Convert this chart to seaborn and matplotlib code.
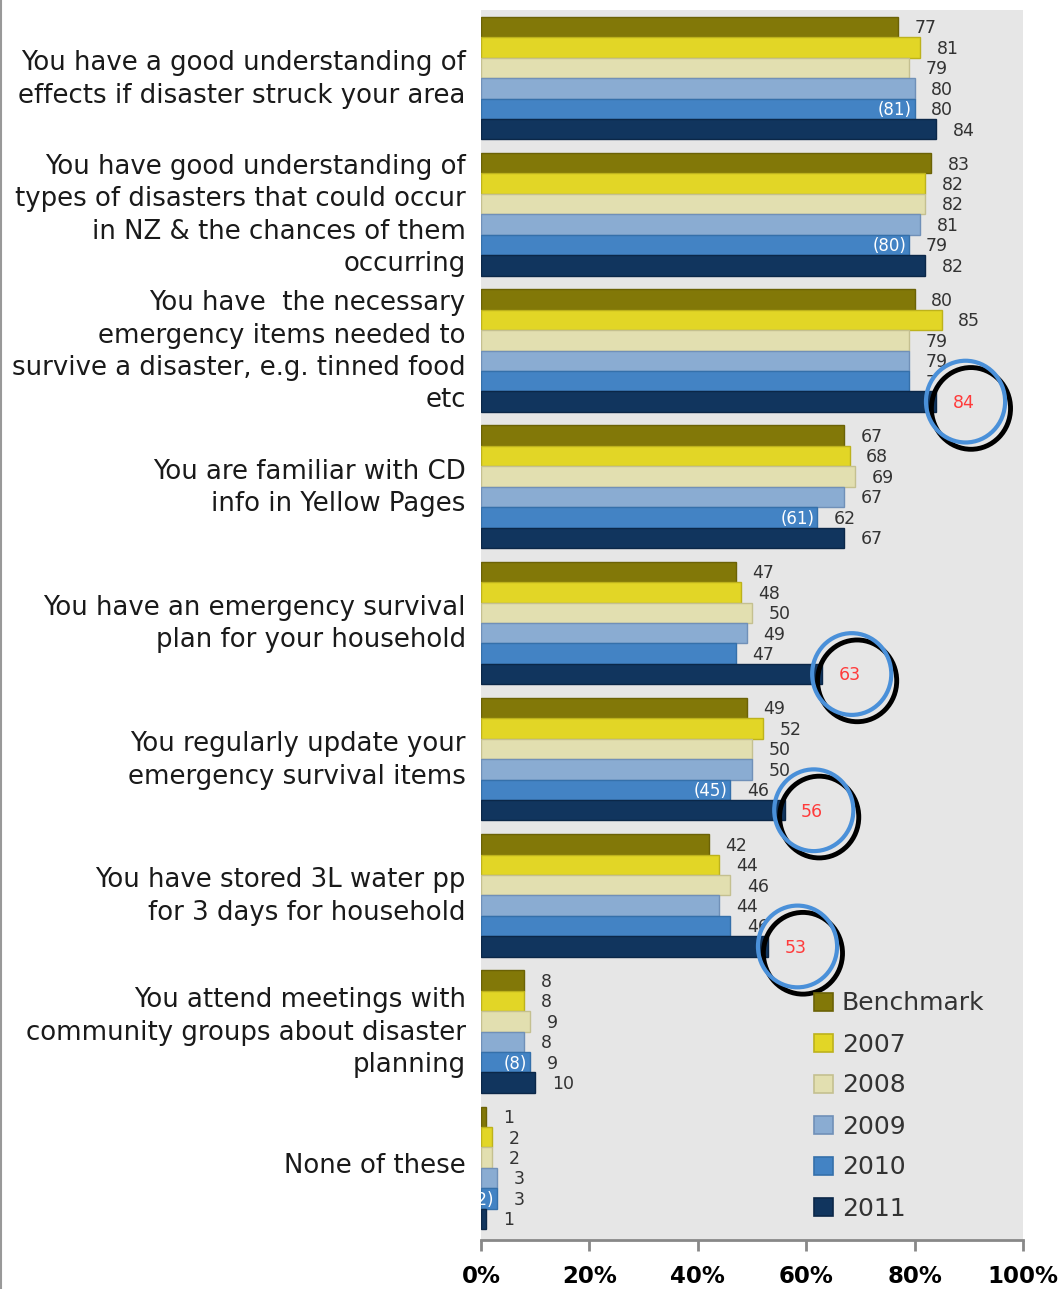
import numpy as np
import pandas as pd
import seaborn as sns
import matplotlib
matplotlib.use("Agg")
import matplotlib.pyplot as plt
import matplotlib.transforms as mtransforms
from matplotlib.patches import Ellipse
from matplotlib.lines import Line2D

categories = [
    "You have a good understanding of\neffects if disaster struck your area",
    "You have good understanding of\ntypes of disasters that could occur\nin NZ & the chances of them\noccurring",
    "You have  the necessary\nemergency items needed to\nsurvive a disaster, e.g. tinned food\netc",
    "You are familiar with CD\ninfo in Yellow Pages",
    "You have an emergency survival\nplan for your household",
    "You regularly update your\nemergency survival items",
    "You have stored 3L water pp\nfor 3 days for household",
    "You attend meetings with\ncommunity groups about disaster\nplanning",
    "None of these",
]
series_names = ["Benchmark", "2007", "2008", "2009", "2010", "2011"]
benchmark = [77, 83, 80, 67, 47, 49, 42, 8, 1]
y2007 = [81, 82, 85, 68, 48, 52, 44, 8, 2]
y2008 = [79, 82, 79, 69, 50, 50, 46, 9, 2]
y2009 = [80, 81, 79, 67, 49, 50, 44, 8, 3]
y2010 = [80, 79, 79, 62, 47, 46, 46, 9, 3]
y2011 = [84, 82, 84, 67, 63, 56, 53, 10, 1]
paren_2010 = ["(81)", "(80)", "", "(61)", "", "(45)", "", "(8)", "(2)"]
highlight_2011 = [False, False, True, False, True, True, True, False, False]
tick_values = [0, 20, 40, 60, 80, 100]
tick_labels = ["0%", "20%", "40%", "60%", "80%", "100%"]

colors = ["#827808", "#E2D626", "#E2DFB0", "#8AACD2", "#4383C4", "#11355E"]
edge_colors = ["#6B6206", "#BDB21C", "#C4C090", "#7090B8", "#3570AA", "#0B2748"]

all_vals = [benchmark, y2007, y2008, y2009, y2010, y2011]
rows = []
for s, vals in zip(series_names, all_vals):
    for c, v in zip(categories, vals):
        rows.append({"category": c, "series": s, "value": v})
df = pd.DataFrame(rows)

sns.set_theme(style="white")
plt.rcParams["font.family"] = ["DejaVu Sans"]

fig = plt.figure(figsize=(10.6, 12.89), dpi=100)
ax = fig.add_axes([481 / 1060, 1 - 1240 / 1289, 542 / 1060, 1230 / 1289])
ax.set_facecolor("#E6E6E6")

sns.barplot(data=df, x="value", y="category", hue="series", order=categories,
            hue_order=series_names, palette=colors, saturation=1, orient="h", width=0.9,
            ax=ax, legend=False, zorder=2, linewidth=1.0)

for cont, ec in zip(ax.containers, edge_colors):
    for p in cont:
        p.set_edgecolor(ec)

ax.set_xlim(0, 100)
ax.set_ylim(8.53, -0.5)
ax.set_xlabel("")
ax.set_ylabel("")

# value labels
for si, (cont, vals) in enumerate(zip(ax.containers, all_vals)):
    for ci, (p, v) in enumerate(zip(cont, vals)):
        yc = p.get_y() + p.get_height() / 2
        red = (si == 5 and highlight_2011[ci])
        ax.annotate(str(v), xy=(v, yc), xytext=(12, -1), textcoords="offset points",
                    ha="left", va="center", fontsize=12.5,
                    color="#FF3B3B" if red else "#333333",
                    zorder=4 if red else 1.4)
        if si == 4 and paren_2010[ci]:
            ax.annotate(paren_2010[ci], xy=(v, yc), xytext=(-2, -1), textcoords="offset points",
                        ha="right", va="center", fontsize=12, color="white", zorder=5)
        if red:
            cx = v + 5.4
            w = 14.6
            h = 0.6
            ax.add_patch(Ellipse((cx, yc), w, h, facecolor="#E6E6E6", edgecolor="none", zorder=1.5))
            ax.add_patch(Ellipse((cx + 1.0, yc + 0.05), w, h, facecolor="none",
                                 edgecolor="black", linewidth=3.5, zorder=2.9))
            ax.add_patch(Ellipse((cx, yc), w, h, facecolor="none",
                                 edgecolor="#4A90D9", linewidth=3.0, zorder=3))

ax.set_xticks(tick_values)
ax.set_xticklabels(tick_labels, fontsize=16.5, fontweight="bold", color="black")
ax.tick_params(axis="x", bottom=True, length=8, width=2, color="#888888", pad=10)
ax.tick_params(axis="y", left=False, pad=5)
shift = mtransforms.ScaledTranslation(0, 5 / 100, fig.dpi_scale_trans)
for lab in ax.get_yticklabels():
    lab.set_fontsize(18.7)
    lab.set_color("#1A1A1A")
    lab.set_multialignment("right")
    lab.set_linespacing(1.32)
    lab.set_transform(lab.get_transform() + shift)
for side in ["top", "right", "left"]:
    ax.spines[side].set_visible(False)
ax.spines["bottom"].set_color("#888888")
ax.spines["bottom"].set_linewidth(2)

handles = [plt.Rectangle((0, 0), 1, 1, facecolor=c, edgecolor=e, linewidth=1.2)
           for c, e in zip(colors, edge_colors)]
leg = fig.legend(handles, series_names, loc="upper left",
                 bbox_to_anchor=(792 / 1060, 1 - 969 / 1289), frameon=False,
                 fontsize=18, handlelength=0.75, handleheight=0.75,
                 labelspacing=0.68, handletextpad=0.35)
for t in leg.get_texts():
    t.set_color("#333333")

fig.add_artist(Line2D([0.0008, 0.0008], [0, 1], color="#999999", linewidth=1.5))

fig.savefig("out.png", dpi=100)
